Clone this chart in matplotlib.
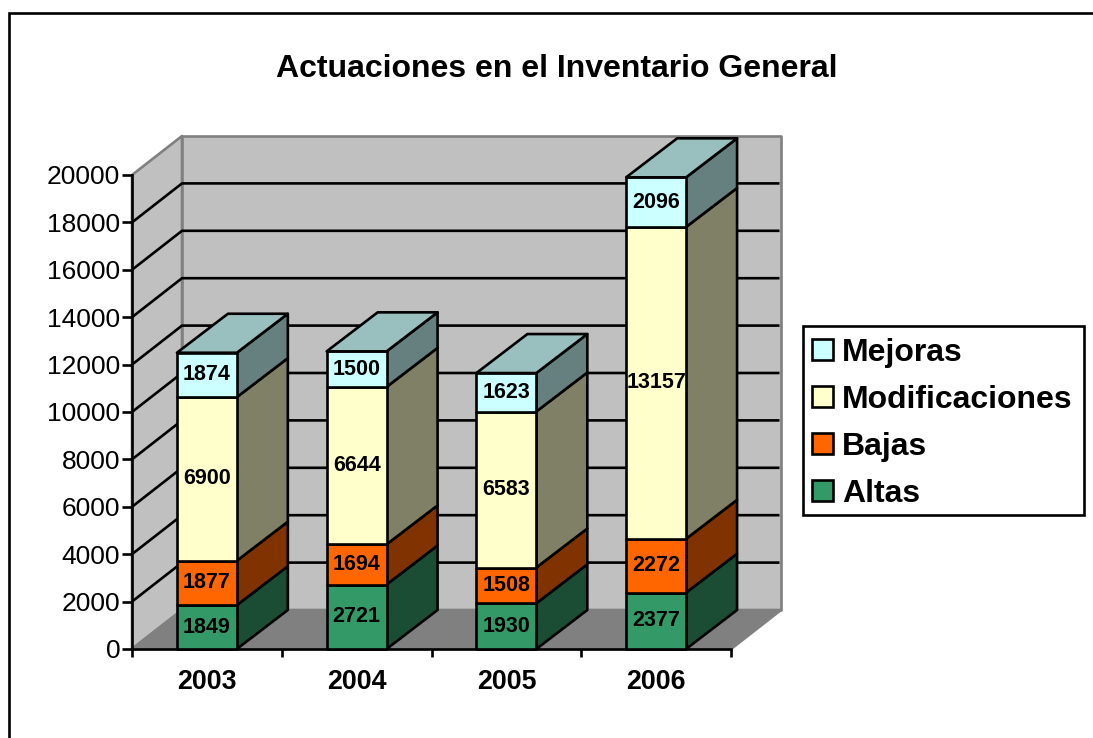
import matplotlib
matplotlib.use("Agg")
import matplotlib.pyplot as plt
from matplotlib.patches import Patch, Polygon, Rectangle

plt.rcParams['font.family'] = ['Liberation Sans', 'DejaVu Sans']

years = ['2003', '2004', '2005', '2006']
altas = [1849, 2721, 1930, 2377]
bajas = [1877, 1694, 1508, 2272]
modificaciones = [6900, 6644, 6583, 13157]
mejoras = [1874, 1500, 1623, 2096]
series_names = ['Altas', 'Bajas', 'Modificaciones', 'Mejoras']
series_values = [altas, bajas, modificaciones, mejoras]
front_colors = ['#339966', '#FF6600', '#FFFFCC', '#CCFFFF']
side_colors = ['#1A4D33', '#803300', '#808066', '#668080']
top_color = '#99BFBF'
yticks = list(range(0, 20001, 2000))

W, H = 1093, 738
fig = plt.figure(figsize=(W / 100, H / 100), dpi=100, facecolor='white')
L, R, T, B = 132, 731, 175, 649
ax = fig.add_axes([L / W, 1 - B / H, (R - L) / W, (B - T) / H])
ax.set_xlim(0, 4)
ax.set_ylim(0, 20000)
ax.patch.set_visible(False)

DX = 50 / (R - L) * 4
DY = 39 / (B - T) * 20000
LW = 1.9

def poly(pts, fc, ec='black', z=2, lw=LW):
    ax.add_patch(Polygon(pts, closed=True, facecolor=fc, edgecolor=ec, linewidth=lw,
                         zorder=z, clip_on=False, joinstyle='round'))

# walls and floor
grey = '#808080'
poly([(0, 0), (DX, DY), (DX, 20000 + DY), (0, 20000)], '#C0C0C0', ec=grey, z=1)
poly([(DX, DY), (4 + DX, DY), (4 + DX, 20000 + DY), (DX, 20000 + DY)], '#C0C0C0', ec=grey, z=1)
poly([(0, 0), (4, 0), (4 + DX, DY), (DX, DY)], grey, ec=grey, z=1.2)

# gridlines on both walls
for v in yticks[1:-1]:
    ax.plot([0, DX, 4 + DX - 0.01], [v, v + DY, v + DY], color='black', lw=LW, zorder=1.5,
            clip_on=False, solid_capstyle='butt', solid_joinstyle='round')

# stacked boxes
BW = 0.4
BDX = 51 / (R - L) * 4
for i, year in enumerate(years):
    x0, x1 = i + 0.5 - BW / 2, i + 0.5 + BW / 2
    base = 0
    for vals, fc, sc in zip(series_values, front_colors, side_colors):
        v = vals[i]
        t = base + v
        poly([(x1, base), (x1 + BDX, base + DY), (x1 + BDX, t + DY), (x1, t)], sc, z=3 + i)
        poly([(x0, base), (x1, base), (x1, t), (x0, t)], fc, z=3 + i)
        ax.text(i + 0.5, base + v / 2, str(v), ha='center', va='center', fontsize=15.5,
                fontweight='bold', color='black', zorder=10)
        base = t
    poly([(x0, base), (x1, base), (x1 + BDX, base + DY), (x0 + BDX, base + DY)], top_color, z=3 + i)

# axes
for s in ('top', 'right'):
    ax.spines[s].set_visible(False)
for s in ('left', 'bottom'):
    ax.spines[s].set_linewidth(LW)
    ax.spines[s].set_zorder(2.5)
ax.set_yticks(yticks)
ax.set_yticklabels([str(v) for v in yticks], fontsize=19)
ax.tick_params(axis='y', length=7, width=LW, pad=1.5)
ax.set_xticks(range(5))
ax.set_xticklabels([''] * 5)
ax.tick_params(axis='x', which='major', length=6, width=LW)
ax.set_xticks([i + 0.5 for i in range(4)], minor=True)
ax.set_xticklabels(years, minor=True, fontsize=19.3, fontweight='bold')
ax.tick_params(axis='x', which='minor', length=0, pad=14.2)

# title
fig.text(557 / W, 1 - 69 / H, 'Actuaciones en el Inventario General', ha='center', va='center',
         fontsize=23, fontweight='bold')

# outer frame, running off the right and bottom edges
fig.add_artist(Rectangle((9 / W, -0.02), 1.1, 1 - 13 / H + 0.02, transform=fig.transFigure,
                         facecolor='none', edgecolor='black', linewidth=LW, zorder=0))

# legend frame
fig.add_artist(Rectangle((803 / W, 1 - 515 / H), 281 / W, 189 / H, transform=fig.transFigure,
                         facecolor='white', edgecolor='black', linewidth=LW, zorder=1))

# legend
handles = [Patch(facecolor=c, edgecolor='black', linewidth=LW) for c in front_colors[::-1]]
leg = fig.legend(handles, series_names[::-1], loc='upper left',
                 bbox_to_anchor=(803 / W, 1 - 329 / H), borderaxespad=0,
                 prop={'size': 23, 'weight': 'bold'}, frameon=False,
                 handlelength=0.65, handleheight=0.65,
                 handletextpad=0.3, labelspacing=0.53, borderpad=0.28)
leg.set_zorder(2)

fig.savefig('out.png', dpi=100)
